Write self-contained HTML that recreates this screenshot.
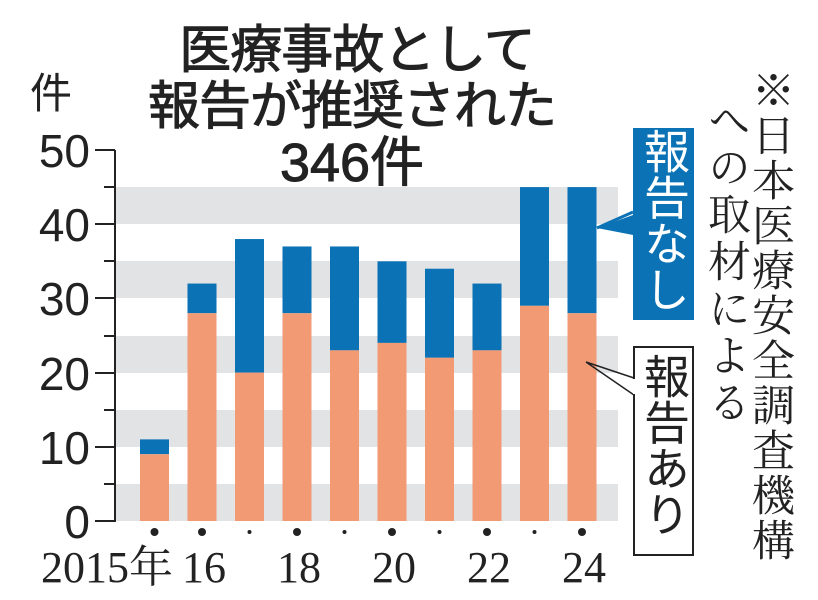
<!DOCTYPE html>
<html><head><meta charset="utf-8"><style>
body{margin:0;background:#fff;}
#c{position:relative;width:818px;height:600px;overflow:hidden;background:#fff;}
.v{position:absolute;writing-mode:vertical-rl;text-orientation:upright;}
</style></head><body><div id="c">
<svg width="818" height="600" style="position:absolute;left:0;top:0">
<g fill="#e2e3e5">
<rect x="115" y="187" width="503" height="37"/>
<rect x="115" y="261" width="503" height="37"/>
<rect x="115" y="336" width="503" height="37"/>
<rect x="115" y="410" width="503" height="37"/>
<rect x="115" y="484" width="503" height="37"/>
</g>
<g id="bars"></g>
<g stroke="#222" stroke-width="2" fill="none">
<path d="M115 150V522M95 150H115M95 224H115M95 298H115M95 373H115M95 447H115M95 521H115M104 187H115M104 261H115M104 336H115M104 410H115M104 484H115"/>
</g>
<g font-family="Liberation Sans, sans-serif" font-size="46" fill="#222" text-anchor="end">
<text x="90" y="167">50</text><text x="90" y="241">40</text><text x="90" y="315">30</text>
<text x="90" y="390">20</text><text x="90" y="464">10</text><text x="90" y="538">0</text>
</g>
<text x="30" y="108" font-family="Liberation Sans, Noto Sans CJK JP, sans-serif" font-size="42" fill="#222">件</text>
<g font-family="Liberation Sans, Noto Sans CJK JP, sans-serif" font-size="52" fill="#222" text-anchor="middle" stroke="#222" stroke-width="1">
<text x="357" y="68" letter-spacing="-1">医療事故として</text>
<text x="352" y="124" letter-spacing="-1">報告が推奨された</text>
<text x="352" y="181" font-size="54">346件</text>
</g>
<g font-family="Liberation Serif, Noto Serif CJK JP, serif" font-size="44" fill="#222" text-anchor="middle">
<text x="107" y="582">2015年</text>
<text x="204" y="582">16</text><text x="299" y="582">18</text><text x="394" y="582">20</text>
<text x="489" y="582">22</text><text x="584" y="582">24</text>
</g>
<rect x="633" y="128" width="61" height="192" fill="#0a72b5"/>
<polygon points="597,228 633,215 633,235" fill="#0a72b5"/>
<path d="M597 228 L633 212" stroke="#0a72b5" stroke-width="3"/>
<rect x="634" y="347" width="59" height="208" fill="#fff" stroke="#222" stroke-width="2"/>
<path d="M586 362 L634 378 M586 362 L634 395" stroke="#222" stroke-width="1.5"/>
<rect x="633" y="379" width="3" height="15" fill="#fff"/>
</svg>
<div class="v" style="left:640px;top:128px;font:46px 'Liberation Sans','Noto Sans CJK JP',sans-serif;color:#fff;line-height:48px;">報告なし</div>
<div class="v" style="left:640px;top:353px;font:46px 'Liberation Sans','Noto Sans CJK JP',sans-serif;color:#222;line-height:48px;">報告あり</div>
<div class="v" style="left:746px;top:68px;font:43px 'Liberation Serif','Noto Serif CJK JP',serif;color:#222;line-height:46px;letter-spacing:2px;">※日本医療安全調査機構</div>
<div class="v" style="left:702px;top:98px;font:43px 'Liberation Serif','Noto Serif CJK JP',serif;color:#222;line-height:46px;letter-spacing:4px;">への取材による</div>
</div>
<script>
var d=[[9,11],[28,32],[20,38],[28,37],[23,37],[24,35],[22,34],[23,32],[29,45],[28,45]];
var g=document.getElementById('bars'),s='';
var y=function(v){return 521-v*7.42;};
d.forEach(function(p,i){var x=140+47.5*i;
s+='<rect x="'+x+'" y="'+y(p[1])+'" width="29" height="'+(y(p[0])-y(p[1]))+'" fill="#0a72b5"/>';
s+='<rect x="'+x+'" y="'+y(p[0])+'" width="29" height="'+(521-y(p[0]))+'" fill="#f29a74"/>';
var r=(i==0||i%2==1)?4:2;
s+='<circle cx="'+(x+14.5)+'" cy="532" r="'+r+'" fill="#222"/>';});
g.innerHTML=s;
</script>
</body></html>
